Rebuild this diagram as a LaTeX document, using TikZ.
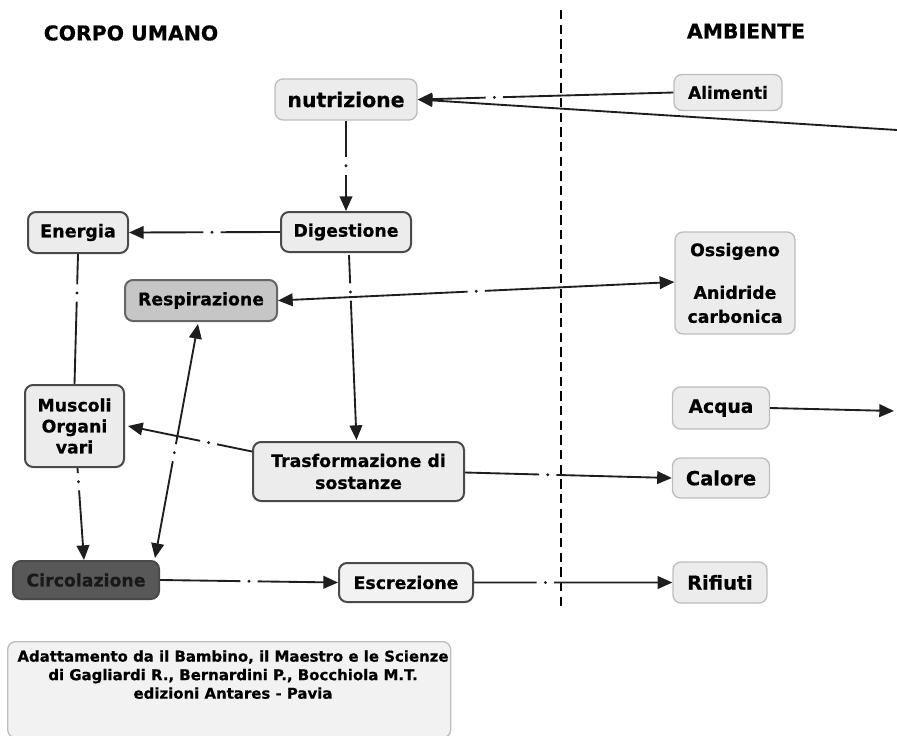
\documentclass[tikz,border=0pt]{standalone}
\usepackage{fontspec}
\setmainfont{DejaVu Sans}[BoldFeatures={FakeBold=0.6}]
\usetikzlibrary{calc,arrows.meta}
\definecolor{fillL}{HTML}{ECECEC}
\definecolor{borderL}{HTML}{BDBDBD}
\definecolor{borderD}{HTML}{4A4A4A}
\definecolor{fillR}{HTML}{C6C6C6}
\definecolor{fillC}{HTML}{585858}
\definecolor{linkC}{HTML}{1E1E1E}
\newcommand\fs[2]{\fontsize{#1}{#2}\selectfont\bfseries}
\newcommand\lnk[5]{%
  \coordinate (la) at (#1); \coordinate (lb) at (#2);
  \coordinate (lm) at ($(la)!#3!(lb)$);
  \draw[link,#4] (la) -- ($(lm)!6.5pt!(la)$);
  \draw[link,#5] ($(lm)!6.5pt!(lb)$) -- (lb);
  \fill[linkC] (lm) circle (1.2pt);
}
\tikzset{
  boxL/.style={draw=borderL, line width=1pt, fill=fillL, rounded corners=6pt, align=center, inner sep=0pt},
  boxD/.style={draw=borderD, line width=1.5pt, fill=fillL, rounded corners=6pt, align=center, inner sep=0pt},
  link/.style={draw=linkC, line width=1.4pt},
  tip/.style={-{Triangle[length=11pt,width=9.5pt]}},
  tipS/.style={{Triangle[length=11pt,width=9.5pt]}-},
  head/.style={inner sep=0pt, font=\fs{15.3}{18}}
}
\begin{document}
\begin{tikzpicture}[x=0.75pt,y=-0.75pt]
\useasboundingbox (0,0) rectangle (897,736);
% headings
\node[head] (hc) at (131,33) {CORPO UMANO};
\node[head] (ha) at (746,31) {AMBIENTE};
\coordinate (dtop) at (561,10);
\coordinate (dbot) at (561,606);
\draw[line width=1.1pt, dash pattern=on 7pt off 4pt] (dtop) -- (dbot);
% nodes
\node[boxL, minimum width=142*0.75pt, minimum height=41*0.75pt, font=\fs{15.3}{18}] (nut) at (346,99.5) {nutrizione};
\node[boxL, minimum width=108*0.75pt, minimum height=36*0.75pt, font=\fs{12.7}{15}] (ali) at (728,92.5) {Alimenti};
\node[boxD, minimum width=130*0.75pt, minimum height=40*0.75pt, font=\fs{13}{16}] (dig) at (346,232) {Digestione};
\node[boxD, minimum width=100*0.75pt, minimum height=41*0.75pt, font=\fs{13.2}{16}] (ene) at (78,232.5) {Energia};
\node[boxD, draw=borderD!85, fill=fillR, minimum width=152*0.75pt, minimum height=41*0.75pt, font=\fs{13}{16}] (res) at (201,300.5) {Respirazione};
\node[boxL, minimum width=120*0.75pt, minimum height=102*0.75pt, font=\fs{13}{18}] (oss) at (735,283) {Ossigeno\\[14pt]Anidride\\carbonica};
\node[boxD, minimum width=99*0.75pt, minimum height=82*0.75pt, font=\fs{13}{15.75}] (mus) at (74.5,426) {Muscoli\\Organi\\vari};
\node[boxD, minimum width=211*0.75pt, minimum height=59*0.75pt, font=\fs{13}{16.5}] (tra) at (358.5,471.5) {Trasformazione di\\sostanze};
\node[boxL, minimum width=97*0.75pt, minimum height=42*0.75pt, font=\fs{14}{17}] (acq) at (721,408) {Acqua};
\node[boxL, minimum width=97*0.75pt, minimum height=40*0.75pt, font=\fs{14.6}{17}] (cal) at (721,478) {Calore};
\node[boxD, fill=fillC, text=black!90, minimum width=146*0.75pt, minimum height=38*0.75pt, font=\fs{13}{16}] (cir) at (86,580) {Circolazione};
\node[boxD, fill=fillL!70, minimum width=134*0.75pt, minimum height=39*0.75pt, font=\fs{13}{16}] (esc) at (406,582.5) {Escrezione};
\node[boxL, minimum width=94*0.75pt, minimum height=41*0.75pt, font=\fs{14.5}{17}] (rif) at (720,582.5) {Rifiuti};
\node[boxL, fill=fillL!70, minimum width=443*0.75pt, minimum height=96*0.75pt, anchor=north west] (cap) at (7,641) {};
\node[font=\fs{11.2}{13.9}, align=center, anchor=north, inner sep=0pt] (capt) at (233,650) {Adattamento da il Bambino, il Maestro e le Scienze\\di Gagliardi R., Bernardini P., Bocchiola M.T.\\edizioni Antares - Pavia};
% free ends at the right edge
\coordinate (redge) at (897,130);
\coordinate (aedge) at (894,411);
% connectors
\lnk{ali.west}{nut.east}{0.7}{}{tip}
\draw[link,tip] (redge) -- (nut.east);
\lnk{nut.south}{dig.north}{0.5}{}{tip}
\lnk{dig.west}{ene.east}{0.45}{}{tip}
\lnk{$(dig.south)+(3,2)$}{$(tra.north)+(-2,-1)$}{0.2}{}{tip}
\lnk{ene.south}{mus.north}{0.3}{}{}
\lnk{res.east}{$(oss.west)+(0,-1)$}{0.5}{tipS}{tip}
\lnk{$(tra.west)+(0,-20)$}{$(mus.east)+(3,0)$}{0.35}{}{tip}
\lnk{$(res.south)+(-3,2)$}{$(cir.north)+(69,-2)$}{0.55}{tipS}{tip}
\lnk{$(mus.south)+(3,0)$}{$(cir.north)+(-2,0)$}{0.15}{}{tip}
\lnk{$(tra.east)+(0,1)$}{cal.west}{0.4}{}{tip}
\lnk{cir.east}{esc.west}{0.5}{}{tip}
\lnk{esc.east}{rif.west}{0.36}{}{tip}
\draw[link,tip] (acq.east) -- (aedge);
\end{tikzpicture}
\end{document}
